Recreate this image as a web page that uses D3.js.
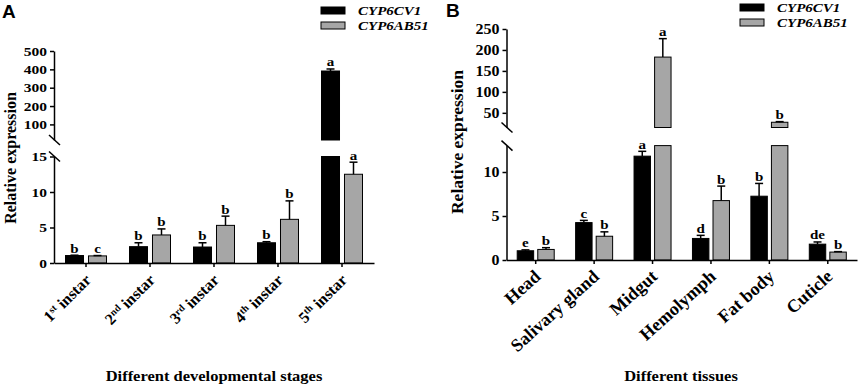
<!DOCTYPE html>
<html lang="en">
<head>
<meta charset="UTF-8">
<title>CYP6CV1 / CYP6AB51 relative expression</title>
<script src="https://d3js.org/d3.v7.min.js"></script>
<style>
    body { margin: 0; background: #fff; }
    svg text { font-family: "Liberation Serif", "Times New Roman", serif; font-weight: bold; fill: #000; }
    .axis path, .axis line { stroke: #000; stroke-width: 1.5; }
    .brk { stroke: #000; stroke-width: 1.5; }
    .err { stroke: #000; stroke-width: 1.5; }
    .panel-tag { font-family: "Liberation Sans", Arial, sans-serif !important; font-size: 19px; }
</style>
</head>
<body>
<svg id="chart" width="858" height="389"></svg>
<script>
const genes = ["CYP6CV1", "CYP6AB51"];
const geneColors = ["#000000", "#a6a6a6"];

// panel A - developmental stages
const stages = ["1st instar", "2nd instar", "3rd instar", "4th instar", "5th instar"];
const stageCV1 = [1.05, 2.3, 2.25, 2.85, 391];
const stageCV1Err = [0.05, 0.55, 0.6, 0.15, 11];
const stageCV1Sig = ["b", "b", "b", "b", "a"];
const stageAB51 = [1.0, 3.95, 5.3, 6.15, 12.5];
const stageAB51Err = [0.05, 0.85, 1.3, 2.6, 1.7];
const stageAB51Sig = ["c", "b", "b", "b", "a"];
const stageLowTicks = [0, 5, 10, 15];
const stageHighTicks = [100, 200, 300, 400, 500];

// panel B - tissues
const tissues = ["Head", "Salivary gland", "Midgut", "Hemolymph", "Fat body", "Cuticle"];
const tissueCV1 = [1.05, 4.25, 11.8, 2.45, 7.25, 1.8];
const tissueCV1Err = [0.1, 0.25, 0.55, 0.35, 1.45, 0.25];
const tissueCV1Sig = ["e", "c", "a", "d", "b", "de"];
const tissueAB51 = [1.2, 2.7, 183, 6.75, 27.5, 0.9];
const tissueAB51Err = [0.2, 0.5, 44, 1.65, 1.5, 0.05];
const tissueAB51Sig = ["b", "b", "a", "b", "b", "b"];
const tissueLowTicks = [0, 5, 10];
const tissueHighTicks = [50, 100, 150, 200, 250];

const svg = d3.select("#chart");
const SQ = 0.85; // the serif text in the figure is a bit flattened

const panels = [
    {
        tag: "A", tagX: 2, tagY: 18,
        cats: stages,
        series: [
            {values: stageCV1, err: stageCV1Err, sig: stageCV1Sig},
            {values: stageAB51, err: stageAB51Err, sig: stageAB51Sig}
        ],
        xRange: [54, 374], groupHalf: 20.5, pad: 0.217,
        low: d3.scaleLinear().domain([0, 15]).range([263, 156.5]),
        high: d3.scaleLinear().domain([15, 500]).range([140, 51]),
        lowTicks: stageLowTicks, highTicks: stageHighTicks,
        tickSize: 15.5, catSize: 16, rot: -45,
        yLabelX: 16, yLabelY: 158, yLabelSize: 16,
        title: "Different developmental stages", titleX: 214, titleY: 381,
        legendX: 321, legendY: 7
    },
    {
        tag: "B", tagX: 446, tagY: 17,
        cats: tissues,
        series: [
            {values: tissueCV1, err: tissueCV1Err, sig: tissueCV1Sig},
            {values: tissueAB51, err: tissueAB51Err, sig: tissueAB51Sig}
        ],
        xRange: [506.5, 857], groupHalf: 18.5, pad: 0.2,
        low: d3.scaleLinear().domain([0, 13]).range([260, 145.6]),
        high: d3.scaleLinear().domain([15, 250]).range([127.5, 29]),
        lowTicks: tissueLowTicks, highTicks: tissueHighTicks,
        tickSize: 16, catSize: 18, rot: -42,
        yLabelX: 463, yLabelY: 142, yLabelSize: 17.5,
        title: "Different tissues", titleX: 681, titleY: 381,
        legendX: 740, legendY: 4
    }
];

panels.forEach(p => {
    const g = svg.append("g");
    const x0 = d3.scaleBand().domain(p.cats).range(p.xRange);
    const x1 = d3.scaleBand().domain(genes).range([-p.groupHalf, p.groupHalf]).paddingInner(p.pad);
    const axisX = p.xRange[0];
    const lowMax = p.low.domain()[1];
    const highMin = p.high.domain()[0];

    // bars, split over the axis break
    p.series.forEach((s, si) => {
        const gene = genes[si];
        s.values.forEach((v, i) => {
            const bx = x0(p.cats[i]) + x0.bandwidth() / 2 + x1(gene);
            const top = p.low(Math.min(v, lowMax));
            g.append("rect")
                .attr("x", bx).attr("y", top)
                .attr("width", x1.bandwidth())
                .attr("height", p.low(0) - top)
                .attr("fill", geneColors[si])
                .attr("stroke", "#000").attr("stroke-width", 1);
            if (v > lowMax) {
                g.append("rect")
                    .attr("x", bx).attr("y", p.high(v))
                    .attr("width", x1.bandwidth())
                    .attr("height", p.high(highMin) - p.high(v))
                    .attr("fill", geneColors[si])
                    .attr("stroke", "#000").attr("stroke-width", 1);
            }
            const sc = v > lowMax ? p.high : p.low;
            const cx = bx + x1.bandwidth() / 2;
            const yTop = sc(v + s.err[i]);
            g.append("line").attr("class", "err")
                .attr("x1", cx).attr("x2", cx)
                .attr("y1", sc(v)).attr("y2", yTop);
            g.append("line").attr("class", "err")
                .attr("x1", cx - 4).attr("x2", cx + 4)
                .attr("y1", yTop).attr("y2", yTop);
            g.append("text")
                .attr("text-anchor", "middle")
                .attr("transform", `translate(${cx},${yTop - 2.5}) scale(1,${SQ})`)
                .style("font-size", "15px")
                .text(s.sig[i]);
        });
    });

    // y axes (two segments)
    const yTicks = (scale, ticks) => {
        const ax = g.append("g").attr("class", "axis")
            .attr("transform", `translate(${axisX},0)`)
            .call(d3.axisLeft(scale).tickValues(ticks).tickSizeInner(4).tickSizeOuter(0).tickPadding(3));
        ax.attr("font-family", null).attr("font-size", null);
        ax.selectAll(".tick text")
            .attr("transform", `scale(1,${SQ})`)
            .style("font-size", p.tickSize + "px");
    };
    yTicks(p.low, p.lowTicks);
    yTicks(p.high, p.highTicks);

    // break marks
    [p.high(highMin), p.low(lowMax)].forEach(yb => {
        g.append("line").attr("class", "brk")
            .attr("x1", axisX - 5).attr("y1", yb - 5)
            .attr("x2", axisX + 6).attr("y2", yb + 5);
    });

    // x axis
    const gx = g.append("g").attr("class", "axis")
        .attr("transform", `translate(0,${p.low(0)})`)
        .call(d3.axisBottom(x0).tickSizeInner(4).tickSizeOuter(0));
    gx.attr("font-family", null).attr("font-size", null);
    gx.selectAll(".tick text").each(function(d) {
        const t = d3.select(this).text(null)
            .attr("x", 0).attr("y", 0).attr("dy", null)
            .attr("text-anchor", "end")
            .attr("transform", `translate(6,18) rotate(${p.rot})`)
            .style("font-size", p.catSize + "px");
        const m = d.match(/^(\d)(st|nd|rd|th) (.*)$/);
        if (m) {
            t.append("tspan").text(m[1]);
            t.append("tspan").attr("baseline-shift", "super").style("font-size", "10px").text(m[2]);
            t.append("tspan").text(" " + m[3]);
        } else {
            t.text(d);
        }
    });

    // axis labels
    g.append("text")
        .attr("text-anchor", "middle")
        .attr("transform", `translate(${p.yLabelX},${p.yLabelY}) rotate(-90)`)
        .style("font-size", p.yLabelSize + "px")
        .text("Relative expression");

    g.append("text")
        .attr("text-anchor", "middle")
        .attr("transform", `translate(${p.titleX},${p.titleY}) scale(1,${SQ})`)
        .style("font-size", "16.5px")
        .text(p.title);

    g.append("text")
        .attr("class", "panel-tag")
        .attr("x", p.tagX).attr("y", p.tagY)
        .text(p.tag);

    // legend
    genes.forEach((gene, i) => {
        const ly = p.legendY + i * 15;
        g.append("rect")
            .attr("x", p.legendX).attr("y", ly)
            .attr("width", 24).attr("height", 7)
            .attr("fill", geneColors[i])
            .attr("stroke", "#000").attr("stroke-width", 1);
        g.append("text")
            .attr("transform", `translate(${p.legendX + 37},${ly + 8}) scale(1,${SQ})`)
            .style("font-size", "15px")
            .style("font-style", "italic")
            .text(gene);
    });
});
</script>
</body>
</html>
